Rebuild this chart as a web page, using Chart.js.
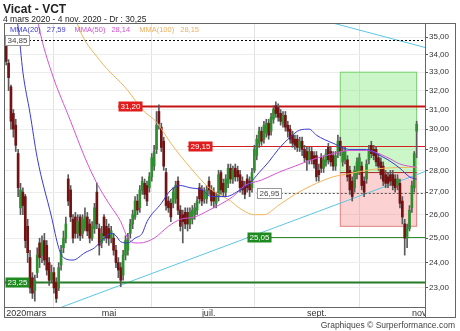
<!DOCTYPE html>
<html>
<head>
<meta charset="utf-8">
<script src="https://cdn.jsdelivr.net/npm/chart.js@4.4.1/dist/chart.umd.min.js"></script>
<style>
  body { margin: 0; background: #fff; }
  #wrap { width: 460px; height: 331px; }
</style>
</head>
<body>
<div id="wrap"><canvas id="vct_canvas" width="460" height="331"></canvas></div>
<script>
// data

const open = [34.8,33.5,32.2,30.8,30.2,28.8,26.3,27.0,26.8,25.5,
  24.2,23.4,22.9,23.6,24.8,24.3,24.9,24.7,24.0,23.3,
  23.6,23.2,23.0,23.9,24.6,25.0,27.6,27.1,25.8,25.9,
  25.2,25.9,25.2,25.4,25.9,25.6,25.0,25.4,27.0,25.4,
  24.8,25.9,25.5,25.4,25.0,25.0,24.5,24.0,23.8,23.5,
  24.3,24.5,25.2,25.6,25.9,26.6,26.3,27.1,27.4,27.3,
  27.2,27.7,28.2,29.0,30.9,30.1,29.4,27.9,26.6,26.5,
  26.5,26.7,27.5,26.2,26.0,26.1,26.1,25.6,25.8,26.0,
  26.2,27.2,27.1,26.7,26.7,27.5,27.1,27.0,26.5,26.8,
  27.9,27.4,27.0,27.4,28.1,27.6,28.1,28.0,27.8,27.5,
  27.3,27.6,27.5,27.2,28.0,28.7,29.3,29.9,29.5,29.8,
  30.3,29.9,30.5,31.2,31.1,30.8,30.3,30.7,30.2,30.0,
  29.7,29.5,29.5,29.1,29.4,29.0,28.9,28.5,28.9,28.7,
  28.7,28.0,28.6,28.1,28.4,29.1,28.9,28.7,28.2,28.8,
  29.4,28.4,28.5,28.5,28.0,27.5,27.2,27.8,28.0,28.2,
  27.5,27.6,28.5,29.2,29.0,29.0,28.6,28.4,28.2,27.8,
  27.7,27.8,27.8,27.6,27.3,27.4,26.6,25.6,25.0,25.4,
  26.3,27.2,29.9];
const high = [35.0,33.7,32.3,31.0,30.5,29.0,27.4,27.2,26.9,25.8,
  24.5,23.6,23.5,24.6,25.0,25.1,25.2,24.9,24.2,23.9,
  23.8,23.4,24.0,24.7,25.3,25.9,27.8,27.3,26.0,26.1,
  26.0,26.0,26.0,26.3,26.1,25.8,25.7,26.5,27.4,25.6,
  25.5,26.0,25.8,25.6,25.5,25.2,24.7,24.2,24.0,24.5,
  25.1,25.2,25.8,26.2,26.8,26.9,27.3,27.7,27.6,27.5,
  27.9,28.8,29.2,30.9,31.25,30.3,29.6,28.1,26.8,26.7,
  27.2,27.5,27.7,26.4,26.2,26.3,26.3,26.3,26.4,26.5,
  26.8,27.4,27.3,27.2,27.3,27.7,27.3,27.2,27.0,28.0,
  28.0,27.6,27.8,28.3,28.3,28.2,28.3,28.2,28.0,27.7,
  27.5,27.8,27.7,28.1,29.2,29.7,30.1,30.1,30.4,30.5,
  30.5,30.8,31.2,31.4,31.3,31.0,30.9,30.9,30.4,30.2,
  29.9,29.7,29.7,29.6,29.6,29.2,29.1,29.1,29.1,28.9,
  28.9,28.3,28.8,28.7,29.0,29.3,29.1,28.9,28.9,29.7,
  29.6,29.1,29.1,28.7,28.2,27.7,28.2,28.6,28.8,28.4,
  27.7,28.5,29.2,29.4,29.2,29.1,28.8,28.6,28.4,28.0,
  27.9,28.0,28.0,27.8,27.8,27.6,26.8,25.8,25.6,26.4,
  27.5,28.9,30.4];
const low = [33.4,32.0,30.0,29.6,28.9,26.8,26.0,26.0,24.6,24.0,
  22.8,22.6,22.5,23.4,23.8,24.0,23.9,23.5,23.1,23.2,
  22.8,22.45,22.9,23.7,24.4,24.8,26.4,25.7,24.8,25.0,
  25.0,24.9,25.0,25.3,25.1,24.8,24.9,25.2,25.4,24.3,
  24.6,24.9,24.8,24.7,24.8,24.3,23.8,23.4,23.05,23.3,
  24.1,24.3,25.0,25.4,25.8,26.0,26.1,26.9,26.7,26.4,
  27.0,27.5,28.0,28.8,30.0,28.9,28.0,26.2,26.1,25.7,
  26.3,26.5,26.0,25.3,24.8,25.4,25.3,25.4,25.6,25.8,
  26.0,26.5,26.4,26.5,26.5,26.9,26.4,26.3,26.3,26.6,
  26.9,26.8,26.8,27.2,27.4,27.4,27.5,27.5,27.0,26.9,
  26.7,27.0,26.8,27.0,27.9,28.5,29.1,29.2,29.3,29.6,
  29.5,29.7,30.3,30.6,30.4,30.2,30.1,29.9,29.6,29.3,
  29.1,29.0,28.9,28.9,28.7,28.4,28.0,28.3,28.3,28.1,
  27.5,27.5,27.9,27.9,28.2,28.3,28.2,28.0,28.0,28.6,
  28.7,28.2,28.3,27.5,26.9,26.6,27.0,27.6,27.8,27.1,
  26.8,27.4,28.3,28.6,28.5,28.2,28.0,27.6,27.3,27.2,
  27.2,27.3,27.1,27.0,27.1,26.3,25.6,24.3,24.6,25.3,
  26.1,27.0,28.6];
const close = [33.6,32.7,30.4,30.0,29.2,27.2,27.1,26.4,24.9,24.4,
  23.0,22.8,23.3,24.3,24.2,24.8,24.1,23.7,23.3,23.6,
  23.0,22.6,23.8,24.5,25.0,25.6,26.6,25.9,25.0,25.2,
  25.7,25.1,25.8,25.9,25.3,25.0,25.5,26.3,25.6,24.7,
  25.2,25.1,25.0,25.0,25.3,24.5,24.0,23.7,23.3,24.3,
  24.9,25.0,25.6,26.0,26.6,26.2,27.1,27.5,26.9,26.6,
  27.7,28.6,28.9,30.2,30.3,29.1,28.2,26.4,26.3,25.9,
  27.0,27.3,26.2,25.5,25.7,25.6,25.6,26.1,26.2,26.3,
  26.6,26.7,26.6,27.0,27.1,27.1,26.6,26.6,26.8,27.8,
  27.1,27.0,27.6,28.1,27.6,28.0,27.7,27.7,27.2,27.1,
  26.9,27.2,27.1,27.9,29.0,29.5,29.9,29.4,30.2,30.3,
  29.7,30.6,31.0,30.8,30.6,30.4,30.7,30.1,29.9,29.5,
  29.3,29.2,29.1,29.4,29.0,28.6,28.5,28.9,28.5,28.3,
  27.7,27.8,28.1,28.5,28.8,28.5,28.4,28.2,28.7,29.4,
  28.9,28.9,28.9,27.7,27.1,26.8,28.0,28.4,28.6,27.3,
  27.0,28.3,29.0,28.8,28.7,28.4,28.2,27.8,27.5,27.4,
  27.4,27.5,27.3,27.2,27.6,26.5,25.9,25.0,25.4,26.2,
  27.3,28.8,30.25];

// moving averages: [day index, value]
const mma20 = [[3,37.0],[5,35.6],[7,33.0],[10,30.8],[13,28.6],[19,25.9],[22,24.6],[24,24.2],[28,24.1],[33,24.4],
  [37,24.6],[41,25.0],[44,25.2],[46,25.1],[48,24.85],[51,24.8],[54,25.0],[57,25.2],[59,25.7],[65,26.5],
  [69,27.1],[73,27.3],[77,27.2],[82,27.1],[86,26.8],[92,26.8],[98,27.1],[102,27.4],[106,27.9],[110,28.4],
  [114,29.0],[119,29.6],[123,29.95],[127,30.0],[130,29.7],[137,29.3],[144,29.0],[151,29.0],[155,28.8],
  [160,28.5],[165,28.1],[169,27.7],[172,27.59]];
const mma50 = [[12,37.0],[14,35.4],[19,33.0],[27,30.4],[33,28.6],[38,27.4],[43,26.5],[48,25.7],[51,25.0],
  [54,24.8],[56,24.8],[62,25.0],[68,25.5],[73,25.8],[79,25.9],[85,26.2],[95,26.8],[100,27.3],[107,27.55],
  [114,27.9],[121,28.2],[128,28.5],[137,28.8],[144,28.95],[151,28.95],[160,28.6],[165,28.3],[172,28.14]];
const mma100 = [[28,36.8],[30,35.7],[39,33.7],[51,32.0],[57,31.0],[63,30.35],[69,29.3],[77,28.15],[85,27.2],
  [94,26.6],[99,26.2],[104,26.0],[108,26.0],[114,26.4],[121,26.9],[128,27.3],[130,27.4],[137,27.7],
  [144,27.85],[151,28.0],[158,28.1],[172,28.15]];

// month ticks: [day index, label]
const monthTicks = [[0, '2020mars'], [40, 'mai'], [82, 'juil.'], [126, 'sept.'], [170, 'nov.']];
const yTicks = [23, 24, 25, 26, 27, 28, 29, 30, 31, 32, 33, 34, 35];

// support / resistance levels and their label anchors (day index)
const levels = [34.85, 31.20, 29.15, 26.95, 25.05, 23.25];
const levelFrom = [0, 47, 76, 105, 101, 0];
// target / stop zones
const zoneDays = [140, 172];
const targetZone = [27.9, 33.0];
const stopZone = [25.5, 27.9];
// trend lines: [day index, price]
const trendUp = [[23.4, 22.28], [172, 27.8]];
const trendDown = [[140, 35.71], [172, 34.52]];

const lastMMA = ['27,59', '28,14', '28,15'];

const slots = Array.from({length: close.length + 3}, (_, i) => i);
const fmt = v => v.toFixed(2).replace('.', ',');
const FONT = "'Liberation Sans', Arial, sans-serif";

const levelStyle = [
  {color: '#000', width: 1, dash: [2, 2], box: '#fff', text: '#444', border: '#999'},
  {color: '#c41414', width: 2, dash: [], box: '#e21c1c', text: '#fff'},
  {color: '#d42020', width: 1, dash: [], box: '#e21c1c', text: '#fff'},
  {color: '#555', width: 1, dash: [2, 2], box: '#fff', text: '#444', border: '#999'},
  {color: '#2e8b2e', width: 1, dash: [], box: '#1f8a1f', text: '#fff'},
  {color: '#267a26', width: 2, dash: [], box: '#1f8a1f', text: '#fff'},
];

function drawTrend(ctx, a, x, y, pts) {
  const x1 = x.getPixelForValue(pts[0][0]), y1 = y.getPixelForValue(pts[0][1]);
  const x2 = x.getPixelForValue(pts[1][0]), y2 = y.getPixelForValue(pts[1][1]);
  const k = (y2 - y1) / (x2 - x1);
  ctx.beginPath();
  ctx.moveTo(a.left, y1 + k * (a.left - x1));
  ctx.lineTo(a.right, y1 + k * (a.right - x1));
  ctx.stroke();
}

const decor = {
  id: 'decor',
  beforeDatasetsDraw(chart) {
    const {ctx, chartArea: a, scales: {x, y}} = chart;
    ctx.save();
    ctx.beginPath();
    ctx.rect(a.left, a.top, a.right - a.left, a.bottom - a.top);
    ctx.clip();

    // zones
    const zx0 = x.getPixelForValue(zoneDays[0]), zx1 = x.getPixelForValue(zoneDays[1]);
    let t = y.getPixelForValue(targetZone[1]), b = y.getPixelForValue(targetZone[0]);
    ctx.fillStyle = 'rgba(140,235,130,0.45)';
    ctx.fillRect(zx0, t, zx1 - zx0, b - t);
    ctx.strokeStyle = '#78d070';
    ctx.lineWidth = 1;
    ctx.strokeRect(zx0, t, zx1 - zx0, b - t);
    t = y.getPixelForValue(stopZone[1]); b = y.getPixelForValue(stopZone[0]);
    ctx.fillStyle = 'rgba(245,140,140,0.4)';
    ctx.fillRect(zx0, t, zx1 - zx0, b - t);
    ctx.strokeStyle = '#e08080';
    ctx.strokeRect(zx0, t, zx1 - zx0, b - t);
    ctx.strokeStyle = '#b03030';
    ctx.beginPath(); ctx.moveTo(zx0, t); ctx.lineTo(zx1, t); ctx.stroke();

    // trend lines
    ctx.strokeStyle = '#5cc6e6';
    ctx.lineWidth = 1;
    drawTrend(ctx, a, x, y, trendUp);
    drawTrend(ctx, a, x, y, trendDown);

    // level lines
    levels.forEach((v, k) => {
      const s = levelStyle[k];
      const py = Math.round(y.getPixelForValue(v)) + 0.5;
      const px = levelFrom[k] === 0 ? a.left : x.getPixelForValue(levelFrom[k]);
      ctx.strokeStyle = s.color;
      ctx.lineWidth = s.width;
      ctx.setLineDash(s.dash);
      ctx.beginPath(); ctx.moveTo(px, py); ctx.lineTo(a.right, py); ctx.stroke();
    });
    ctx.setLineDash([]);
    ctx.restore();
  },
  afterDatasetsDraw(chart) {
    const {ctx, chartArea: a, scales: {x, y}} = chart;
    ctx.save();
    ctx.font = '8px ' + FONT;
    ctx.textBaseline = 'middle';
    ctx.textAlign = 'left';
    levels.forEach((v, k) => {
      const s = levelStyle[k];
      const py = Math.round(y.getPixelForValue(v)) + 0.5;
      const px = levelFrom[k] === 0 ? a.left + 0.5 : Math.round(x.getPixelForValue(levelFrom[k])) + 0.5;
      const txt = fmt(v);
      const w = ctx.measureText(txt).width + 4;
      ctx.fillStyle = s.box;
      ctx.fillRect(px, py - 5, w, 10);
      if (s.border) {
        ctx.strokeStyle = s.border;
        ctx.lineWidth = 1;
        ctx.strokeRect(px, py - 5, w, 10);
      }
      ctx.fillStyle = s.text;
      ctx.fillText(txt, px + 2, py + 0.5);
    });

    // moving average legend
    ctx.font = '7.5px ' + FONT;
    ctx.textBaseline = 'alphabetic';
    const names = ['MMA(20)', 'MMA(50)', 'MMA(100)'];
    const cols = ['#3c3cc8', '#d050d0', '#eab060'];
    let lx = a.left + 5;
    names.forEach((n, k) => {
      ctx.fillStyle = cols[k];
      ctx.fillText(n, lx, a.top + 8);
      lx += ctx.measureText(n).width + 6;
      ctx.fillText(lastMMA[k], lx, a.top + 8);
      lx += ctx.measureText(lastMMA[k]).width + 9;
    });
    ctx.restore();
  },
  afterDraw(chart) {
    const {ctx, chartArea: a} = chart;
    ctx.save();
    // hide the part of the last month label running under the price axis
    ctx.fillStyle = '#fff';
    ctx.fillRect(a.right + 1, a.bottom + 1, 30, 9);
    // frame
    ctx.strokeStyle = '#666';
    ctx.lineWidth = 1;
    ctx.strokeRect(a.left - 0.5, a.top - 0.5, 451, 294);
    ctx.beginPath();
    ctx.moveTo(a.right + 0.5, a.top); ctx.lineTo(a.right + 0.5, a.bottom + 10);
    ctx.moveTo(a.left, a.bottom + 0.5); ctx.lineTo(a.right, a.bottom + 0.5);
    ctx.stroke();
    // titles
    ctx.fillStyle = '#222';
    ctx.font = 'bold 12px ' + FONT;
    ctx.fillText('Vicat - VCT', 3, 12.5);
    ctx.font = '8.5px ' + FONT;
    ctx.fillText('4 mars 2020 - 4 nov. 2020 - Dr : 30,25', 3, 22);
    ctx.fillStyle = '#444';
    ctx.textAlign = 'right';
    ctx.fillText('Graphiques \u00a9 Surperformance.com', 455, 327.5);
    ctx.restore();
  }
};

const toPts = pts => pts.map(p => ({x: p[0], y: p[1]}));
const up = close.map((c, i) => c >= open[i]);

const vct_ctx = document.getElementById('vct_canvas').getContext('2d');
const vct_chart = new Chart(vct_ctx, {
  type: 'bar',
  data: {
    labels: slots,
    datasets: [
      {
        data: low.map((l, i) => [l, high[i]]),
        backgroundColor: '#5a5a5a',
        barThickness: 1,
        grouped: false,
        order: 4,
      },
      {
        data: open.map((o, i) => [o, close[i]]),
        backgroundColor: up.map(u => u ? '#2f8f2f' : '#721212'),
        barThickness: 2,
        grouped: false,
        order: 3,
      },
      {
        type: 'line',
        data: toPts(mma100),
        borderColor: '#f0b45a',
        borderWidth: 1,
        pointRadius: 0,
        cubicInterpolationMode: 'monotone',
        order: 2,
      },
      {
        type: 'line',
        data: toPts(mma50),
        borderColor: '#d455d4',
        borderWidth: 1,
        pointRadius: 0,
        cubicInterpolationMode: 'monotone',
        order: 1,
      },
      {
        type: 'line',
        data: toPts(mma20),
        borderColor: '#3a3ad0',
        borderWidth: 1,
        pointRadius: 0,
        cubicInterpolationMode: 'monotone',
        order: 0,
      },
    ],
  },
  options: {
    responsive: false,
    animation: false,
    events: [],
    layout: { padding: { left: 5, top: 24, right: 5, bottom: 14 } },
    plugins: { legend: { display: false }, tooltip: { enabled: false } },
    scales: {
      x: {
        offset: true,
        afterFit: s => { s.height = 10; },
        afterBuildTicks: s => { s.ticks = monthTicks.map(m => ({ value: m[0] })); },
        grid: { offset: true, drawTicks: false, color: '#e2e2e2' },
        border: { display: false },
        ticks: {
          autoSkip: false,
          maxRotation: 0,
          align: 'start',
          padding: 1,
          color: '#333',
          font: { size: 9, family: FONT },
          callback: v => { const m = monthTicks.find(t => t[0] === v); return m ? m[1] : ''; },
        },
      },
      y: {
        type: 'logarithmic',
        position: 'right',
        min: 22.28,
        max: 35.77,
        afterFit: s => { s.width = 30; },
        afterBuildTicks: s => { s.ticks = yTicks.map(v => ({ value: v })); },
        grid: { color: '#ececec', tickLength: 3, tickColor: '#555' },
        border: { display: false },
        ticks: {
          padding: 1,
          color: '#333',
          font: { size: 8, family: FONT },
          callback: v => fmt(v),
        },
      },
    },
  },
  plugins: [decor],
});
</script>
</body>
</html>
